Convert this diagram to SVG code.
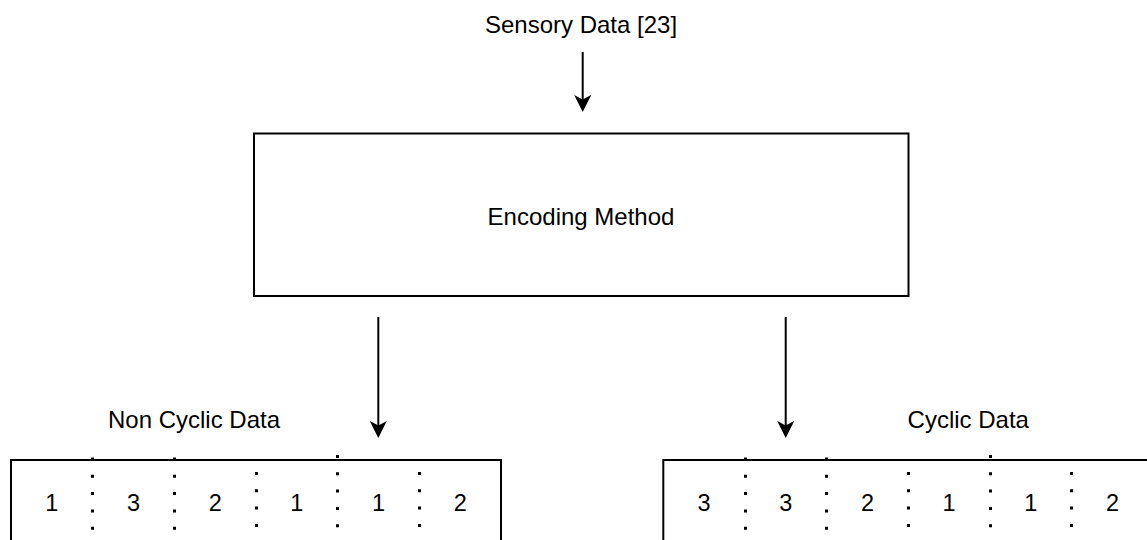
<svg xmlns="http://www.w3.org/2000/svg" width="1147" height="540" viewBox="0 0 1147 540">
  <style>
    text { font-family: "Liberation Sans", Arial, sans-serif; fill: #000; text-anchor: middle; }
    .lbl { font-size: 24px; }
    .num { font-size: 23.5px; }
    .box { fill: #fff; stroke: #000; stroke-width: 2; }
    .conn { stroke: #000; stroke-width: 2; fill: none; }
    .sep { stroke: #000; stroke-width: 3; stroke-dasharray: 3 14.3; fill: none; }
  </style>
  <defs>
    <marker id="arr" viewBox="0 0 17 17" refX="7" refY="8.5" markerWidth="17" markerHeight="17" orient="auto" markerUnits="userSpaceOnUse">
      <path d="M0,0 L17,8.5 L0,17 L4.5,8.5 Z" fill="#000"/>
    </marker>
  </defs>

  <rect width="1147" height="540" fill="#fff"/>

  <g id="sensory-data">
    <text class="lbl" x="581" y="32.5">Sensory Data [23]</text>
  </g>

  <g id="encoding-method">
    <rect class="box" x="254" y="133.5" width="654.5" height="162.5"/>
    <text class="lbl" x="581" y="224.5">Encoding Method</text>
  </g>

  <g id="non-cyclic-data">
    <text class="lbl" x="194" y="427.5">Non Cyclic Data</text>
    <rect class="box" x="11" y="460" width="490" height="120"/>
    <line class="sep" x1="92.5" y1="457.5" x2="92.5" y2="560"/>
    <line class="sep" x1="174.5" y1="457.5" x2="174.5" y2="560"/>
    <line class="sep" x1="256.5" y1="472" x2="256.5" y2="560"/>
    <line class="sep" x1="337.5" y1="455" x2="337.5" y2="560"/>
    <line class="sep" x1="419.5" y1="472" x2="419.5" y2="560"/>
    <text class="num" x="51.8" y="510.5">1</text>
    <text class="num" x="133.5" y="510.5">3</text>
    <text class="num" x="215.2" y="510.5">2</text>
    <text class="num" x="296.8" y="510.5">1</text>
    <text class="num" x="378.5" y="510.5">1</text>
    <text class="num" x="460.2" y="510.5">2</text>
  </g>

  <g id="cyclic-data">
    <text class="lbl" x="968.3" y="427.5">Cyclic Data</text>
    <rect class="box" x="663.3" y="460" width="490" height="120"/>
    <line class="sep" x1="745.5" y1="457.5" x2="745.5" y2="560"/>
    <line class="sep" x1="826.5" y1="457.5" x2="826.5" y2="560"/>
    <line class="sep" x1="908.5" y1="472" x2="908.5" y2="560"/>
    <line class="sep" x1="990.5" y1="455" x2="990.5" y2="560"/>
    <line class="sep" x1="1071.5" y1="472" x2="1071.5" y2="560"/>
    <text class="num" x="704.1" y="510.5">3</text>
    <text class="num" x="785.8" y="510.5">3</text>
    <text class="num" x="867.5" y="510.5">2</text>
    <text class="num" x="949.1" y="510.5">1</text>
    <text class="num" x="1030.8" y="510.5">1</text>
    <text class="num" x="1112.5" y="510.5">2</text>
  </g>

  <g id="connectors">
    <line class="conn" x1="582.7" y1="52" x2="582.7" y2="102" marker-end="url(#arr)"/>
    <line class="conn" x1="378.3" y1="317" x2="378.3" y2="428" marker-end="url(#arr)"/>
    <line class="conn" x1="785.7" y1="317" x2="785.7" y2="428" marker-end="url(#arr)"/>
  </g>
</svg>
